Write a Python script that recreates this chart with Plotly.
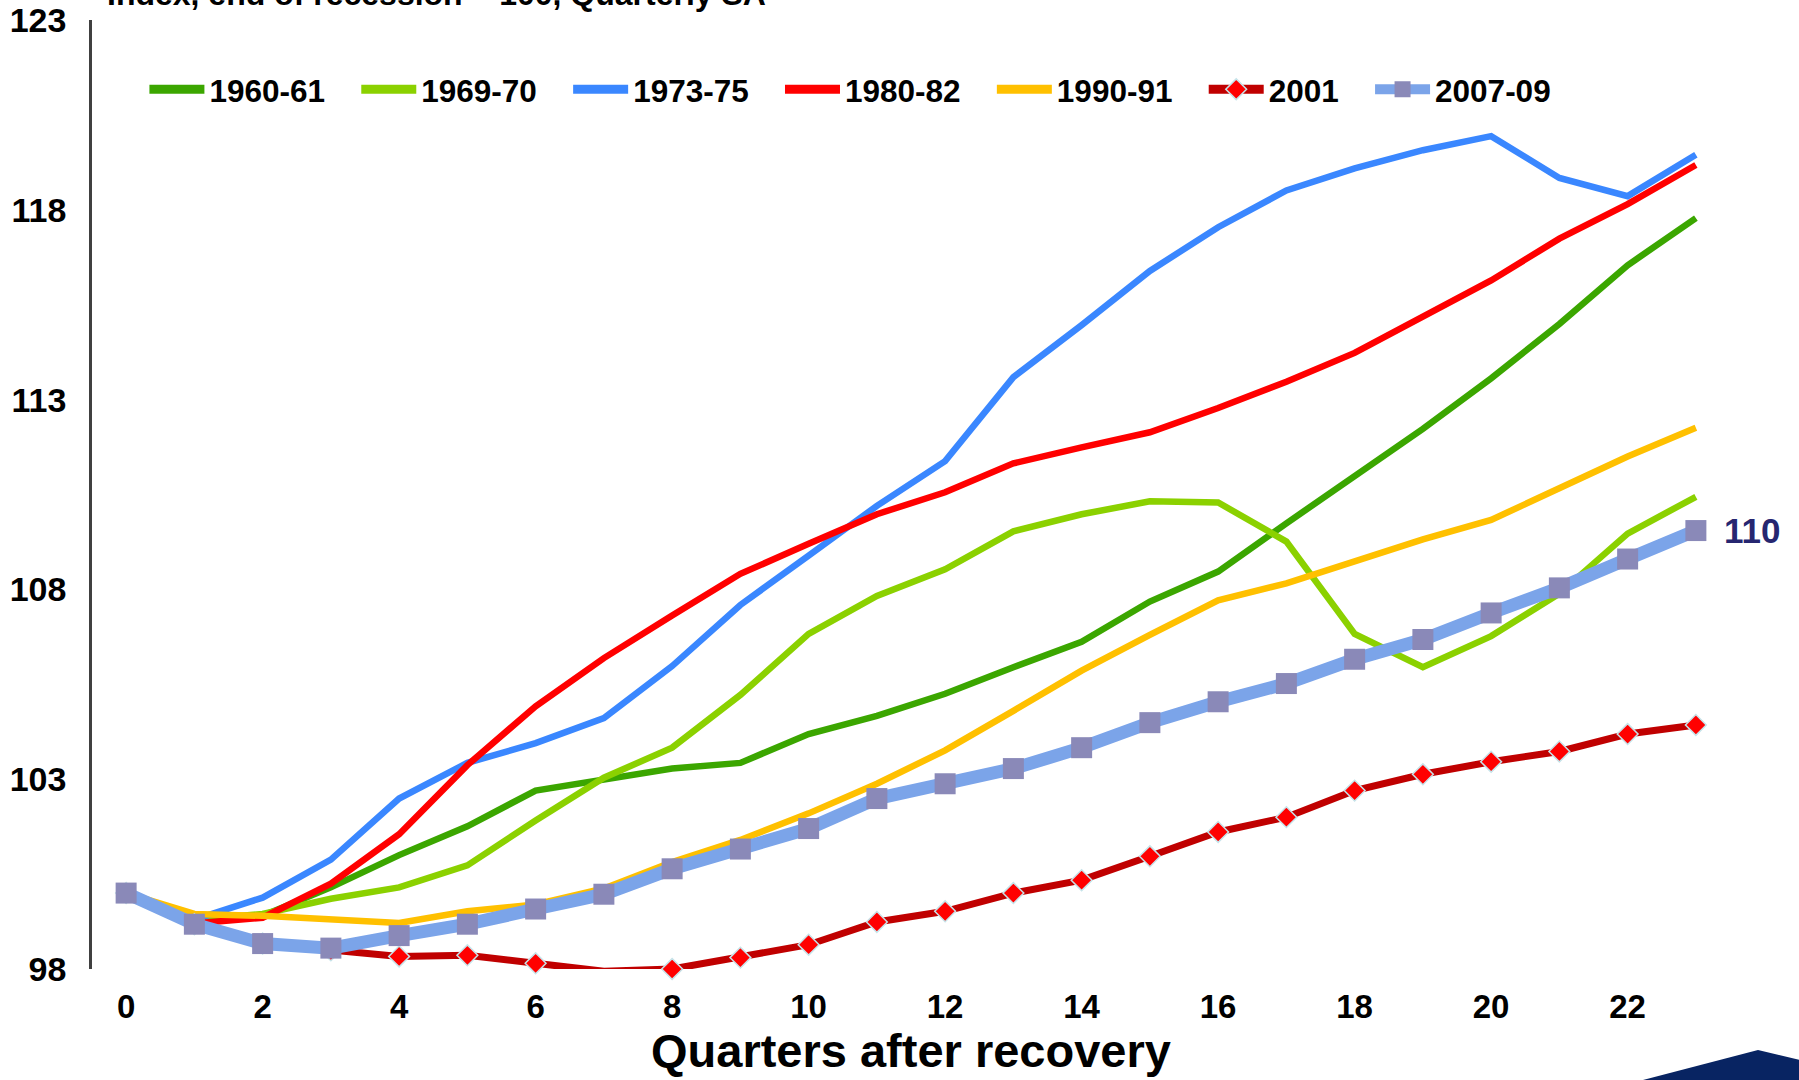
import plotly.graph_objects as go

# Quarters after the end of each recession
quarters = list(range(24))

# Index, end of recession = 100
s1960_61 = [100.0, 99.25, 99.4, 100.15, 101.0, 101.76, 102.7, 103.0, 103.28, 103.43, 104.19, 104.67,
            105.25, 105.95, 106.62, 107.68, 108.47, 109.74, 111.0, 112.23, 113.56, 114.99, 116.54, 117.78]
s1969_70 = [100.0, 99.3, 99.45, 99.85, 100.15, 100.73, 101.91, 103.04, 103.83, 105.22, 106.83, 107.83,
            108.53, 109.53, 109.98, 110.32, 110.29, 109.26, 106.83, 105.95, 106.77, 107.89, 109.47, 110.44]
s1973_75 = [100.0, 99.3, 99.88, 100.88, 102.49, 103.43, 103.95, 104.61, 105.98, 107.59, 108.89, 110.2,
            111.38, 113.59, 114.96, 116.39, 117.54, 118.51, 119.09, 119.57, 119.94, 118.84, 118.36, 119.45]
s1980_82 = [100.0, 99.2, 99.35, 100.25, 101.55, 103.37, 104.92, 106.19, 107.31, 108.41, 109.2, 109.98,
            110.56, 111.32, 111.74, 112.14, 112.78, 113.47, 114.23, 115.2, 116.14, 117.24, 118.15, 119.18]
s1990_91 = [100.0, 99.45, 99.4, 99.3, 99.21, 99.52, 99.7, 100.12, 100.82, 101.4, 102.1, 102.88,
            103.76, 104.8, 105.86, 106.8, 107.71, 108.16, 108.74, 109.32, 109.83, 110.68, 111.5, 112.26]
s2001 = [100.0, 99.18, 98.67, 98.49, 98.33, 98.36, 98.15, 97.94, 98.0, 98.3, 98.64, 99.24,
         99.52, 100.0, 100.34, 100.97, 101.61, 102.0, 102.7, 103.13, 103.46, 103.73, 104.19, 104.43]
s2007_09 = [100.0, 99.18, 98.67, 98.55, 98.88, 99.18, 99.58, 99.97, 100.64, 101.16, 101.7, 102.49,
            102.88, 103.28, 103.83, 104.49, 105.04, 105.52, 106.16, 106.68, 107.38, 108.04, 108.8, 109.55]

names = ["1960-61", "1969-70", "1973-75", "1980-82", "1990-91", "2001", "2007-09"]

FONT = "Liberation Sans, Arial, sans-serif"
PAD = "\u00a0" * 3  # extra room between legend entries

fig = go.Figure()


def add_series(name, vals, line, marker=None, legend_line=None, label=None):
    """Plot one series; a data-less twin carries a bolder legend swatch."""
    mode = "lines+markers" if marker else "lines"
    fig.add_trace(go.Scatter(
        x=quarters, y=vals, name=name, legendgroup=name, showlegend=False,
        mode=mode, line=line, marker=marker, cliponaxis=False,
    ))
    fig.add_trace(go.Scatter(
        x=[None], y=[None], name=label or name, legendgroup=name, showlegend=True,
        mode=mode, line=legend_line or line, marker=marker, hoverinfo="skip",
    ))


plain = [
    (names[0], s1960_61, "#3BA600"),
    (names[1], s1969_70, "#8BD100"),
    (names[2], s1973_75, "#3A87FF"),
    (names[3], s1980_82, "#FF0000"),
    (names[4], s1990_91, "#FFC000"),
]
for name, vals, color in plain:
    add_series(name, vals, dict(color=color, width=6.5),
               legend_line=dict(color=color, width=9), label=name + PAD)

add_series(
    names[5], s2001, dict(color="#C00000", width=7),
    marker=dict(symbol="diamond", size=16, color="#FF0000",
                line=dict(color="#C6E4EA", width=1.5)),
    legend_line=dict(color="#C00000", width=9), label=names[5] + PAD,
)
add_series(
    names[6], s2007_09, dict(color="#7BA4E9", width=13),
    marker=dict(symbol="square", size=21, color="#8A89B8"),
    legend_line=dict(color="#7BA4E9", width=14),
)

# end-of-series label for the latest recovery
fig.add_annotation(
    x=quarters[-1], y=s2007_09[-1], text=f"{round(s2007_09[-1])}",
    xanchor="left", yanchor="middle", xshift=26, showarrow=False,
    font=dict(family=FONT, size=35, color="#262670", weight="bold"),
)

# subtitle (runs off the top edge)
fig.add_annotation(
    x=0, y=1, xref="paper", yref="paper", xanchor="left", yanchor="bottom",
    xshift=13, yshift=6, showarrow=False,
    text="Index, end of recession = 100, Quarterly SA",
    font=dict(family=FONT, size=32, color="#000000", weight="bold"),
)

# x-axis title
fig.add_annotation(
    x=0.5, y=0, xref="paper", yref="paper", xanchor="center", yanchor="middle",
    yshift=-81, showarrow=False, text="Quarters after recovery",
    font=dict(family=FONT, size=47, color="#000000", weight="bold"),
)

# navy corner decoration
L, R, T, B = 92, 1730, 20, 969
def px(xp):
    return (xp - L) / (R - L)
def py(yp):
    return (B - yp) / (B - T)
fig.add_shape(
    type="path", xref="paper", yref="paper", line=dict(width=0), fillcolor="#082462",
    path=f"M {px(1643)},{py(1080)} L {px(1758)},{py(1050)} L {px(1800)},{py(1060)} "
         f"L {px(1800)},{py(1081)} Z",
)

fig.update_layout(
    width=1799, height=1080,
    margin=dict(l=L, r=1799 - R, t=T, b=1080 - B, autoexpand=False),
    paper_bgcolor="white", plot_bgcolor="white",
    font=dict(family=FONT, color="#000000"),
    showlegend=True,
    legend=dict(
        orientation="h", x=0.032, y=0.927, xanchor="left", yanchor="middle",
        font=dict(family=FONT, size=31.5, color="#000000", weight="bold"),
        itemwidth=55, tracegroupgap=0, bgcolor="rgba(0,0,0,0)",
    ),
    xaxis=dict(
        range=[-0.5, 23.5], tickvals=list(range(0, 23, 2)),
        showgrid=False, zeroline=False, showline=False, ticks="",
        ticklabelstandoff=15, automargin=False,
        tickfont=dict(family=FONT, size=33, color="#000000", weight="bold"),
    ),
    yaxis=dict(
        range=[98, 123], tickvals=list(range(98, 124, 5)),
        showgrid=False, zeroline=False, showline=True, linecolor="#404040", linewidth=2.5,
        ticks="", ticklabelstandoff=16, automargin=False,
        tickfont=dict(family=FONT, size=34, color="#000000", weight="bold"),
    ),
)

fig.write_html("out.html")
